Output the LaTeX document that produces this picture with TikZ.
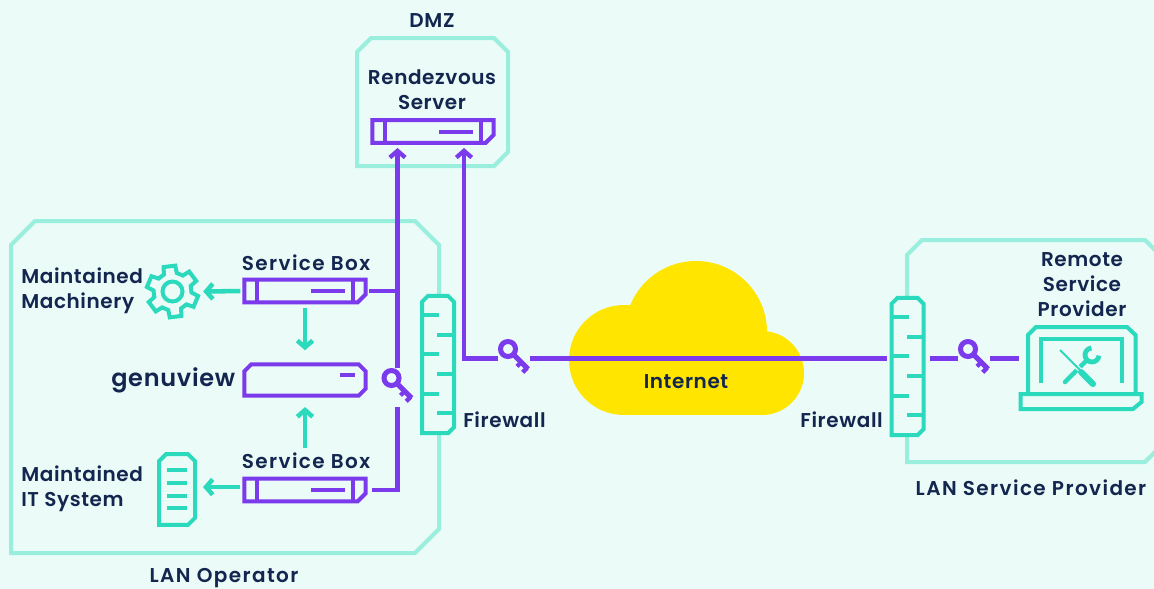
\documentclass[tikz,border=0pt]{standalone}
\usepackage{fontspec}
\setmainfont{Poppins}[UprightFont=* SemiBold,BoldFont=* SemiBold,LetterSpace=3]
\usetikzlibrary{arrows.meta,calc}
\definecolor{pagebg}{HTML}{EBFBF8}
\definecolor{framecol}{HTML}{9AEEDD}
\definecolor{iconcol}{HTML}{2BD9BC}
\definecolor{linkcol}{HTML}{7C3AED}
\definecolor{textcol}{HTML}{13264F}
\definecolor{cloudcol}{HTML}{FFE500}
% outline with three cut corners, round a node
\newcommand{\cutbox}[3]{
  \draw[#1] (#2.south west) -- ($(#2.north west)+(0,#3)$) -- ($(#2.north west)+(#3,0)$)
    -- ($(#2.north east)+(-#3,0)$) -- ($(#2.north east)+(0,#3)$)
    -- ($(#2.south east)+(0,-#3)$) -- ($(#2.south east)+(-#3,0)$) -- cycle;
}
\tikzset{
  barb/.tip={Straight Barb[length=5pt,width=11.5pt]},
  lbl/.style={inner sep=0pt,text=textcol,font=\fontsize{15}{19}\selectfont},
  widelbl/.style={lbl,font=\fontsize{15}{19}\selectfont\addfontfeature{LetterSpace=7}},
  plain/.style={inner sep=0pt,outer sep=0pt},
  frameline/.style={draw=framecol,line width=3pt},
  servbox/.style={plain,minimum width=91pt,minimum height=17pt},
  wallbox/.style={plain,minimum width=24pt,minimum height=103pt},
  keynode/.style={plain,minimum width=24pt,minimum height=29.25pt},
  link/.style={draw=linkcol,line width=3.2pt},
  thin1/.style={draw=linkcol,line width=3pt},
  flow/.style={draw=iconcol,line width=3.4pt},
  icon/.style={draw=iconcol,line width=3pt},
  keyicon/.pic={
    \draw[link,line width=3.75pt] (-6,-9.5) circle[radius=7.5];
    \draw[link,line width=3.75pt] (-1,-4.5) -- (14,10.5);
    \draw[link,line width=3.2pt] (13,9.5) -- (8.7,13.8);
    \draw[link,line width=3.2pt] (7.15,3.65) -- (3,7.8);
  }
}
\begin{document}
\begin{tikzpicture}[x=0.75pt,y=-0.75pt]
\useasboundingbox (0,0) rectangle (1154,589);
\fill[pagebg] (0,0) rectangle (1154,589);
\clip (0,0) rectangle (1154,589);

% frames
\node[plain,minimum width=113.25pt,minimum height=96pt] (dmz) at (432.5,102) {};
\node[plain,minimum width=321pt,minimum height=249pt] (lanop) at (225,387) {};
\node[plain,minimum width=189.75pt,minimum height=166.5pt] (lansp) at (1033.5,351) {};
\cutbox{frameline}{dmz}{14}
\cutbox{frameline}{lanop}{24}
\cutbox{frameline}{lansp}{15}

% cloud
\fill[cloudcol] (624,360) circle[radius=55];
\fill[cloudcol] (696,332) circle[radius=71];
\fill[cloudcol] (762,373) circle[radius=42];
\fill[cloudcol] (624,360) rectangle (762,415);

% labels
\node[lbl] (dmzlbl) at (432,21) {DMZ};
\node[lbl,align=center] (rvlbl) at (432,90) {Rendezvous\\Server};
\node[widelbl] (sb1lbl) at (306,263) {Service Box};
\node[widelbl] (sb2lbl) at (306,461) {Service Box};
\node[lbl,align=left,anchor=west] (machlbl) at (21,291) {Maintained\\Machinery};
\node[lbl,align=left,anchor=west] (itlbl) at (21,489) {Maintained\\IT System};
\node[lbl,anchor=west,font=\fontsize{18}{22}\selectfont\bfseries] (genulbl) at (111,380) {genuview};
\node[lbl,anchor=west] (fw1lbl) at (463,420) {Firewall};
\node[lbl,anchor=east] (fw2lbl) at (883,420) {Firewall};
\node[lbl] (netlbl) at (686,382) {Internet};
\node[lbl,align=center] (rsplbl) at (1082,284.5) {Remote\\Service\\Provider};
\node[widelbl] (lansplbl) at (1031,488) {LAN Service Provider};
\node[widelbl] (lanoplbl) at (224,578) {LAN Operator};

% boxes
\node[servbox] (rv) at (433,131.5) {};
\node[servbox] (sb1) at (305,291) {};
\node[servbox] (sb2) at (305,490) {};
\node[plain,minimum width=91pt,minimum height=23.6pt] (genu) at (305,380) {};
\cutbox{thin1}{genu}{7}
\foreach \b in {rv,sb1,sb2} {
  \draw[thin1] (\b.south west) -- (\b.north west) -- (\b.north east)
    -- ($(\b.south east)+(0,-8)$) -- ($(\b.south east)+(-8,0)$) -- cycle;
  \draw[thin1] ($(\b.north west)+(12.5,0)$) -- ($(\b.south west)+(12.5,0)$);
  \draw[thin1] ($(\b.north east)+(-12.5,0)$) -- ($(\b.south east)+(-12.5,0)$);
  \draw[thin1] ($(\b.east)+(-21,0)$) -- ($(\b.east)+(-55,0)$);
}
\draw[thin1] ($(genu.east)+(-11,-5)$) -- ($(genu.east)+(-26,-5)$);

% firewalls
\node[wallbox] (fw1) at (438,364.5) {};
\node[wallbox] (fw2) at (907.5,366.5) {};
\foreach \w in {fw1,fw2} {
  \cutbox{icon,fill=pagebg}{\w}{6}
  \foreach \dy in {-49.5,-10.5,29.5}
    \draw[icon] ($(\w.west)+(0,\dy)$) -- ++(17,0);
  \foreach \dy in {-29.5,9.5,48.5}
    \draw[icon] ($(\w.east)+(0,\dy)$) -- ++(-17,0);
}

% keys
\node[keynode] (key1) at (397.5,387.5) {};
\node[keynode] (key2) at (514,358.5) {};
\node[keynode] (key3) at (974,358.5) {};
\pic at (key1) {keyicon};
\pic at (key2) {keyicon};
\pic at (key3) {keyicon};

% gear
\node[circle,plain,minimum size=45pt] (gear) at (172.5,291.5) {};
\begin{scope}[shift={(gear.center)}]
\draw[icon,line join=miter] (-117:19) \foreach \a in {-97,-37,23,83,143,203} {
  -- (\a-20:19) -- (\a-13:26) -- (\a+13:26) -- (\a+20:19) } -- cycle;
\draw[icon] (0,0) circle[radius=10];
\end{scope}

% it system
\node[plain,minimum width=27pt,minimum height=53pt] (itsys) at (177,489.5) {};
\cutbox{icon}{itsys}{7}
\foreach \y in {-19.5,-6.5,6.5,18.5}
  \draw[icon] ($(itsys.center)+(-10,\y)$) -- ++(20,0);

% laptop
\node[plain,minimum width=93pt,minimum height=64pt] (laptop) at (1081,367) {};
\draw[icon] (1028,393) -- (1028,335) -- (1036,327) -- (1127,327) -- (1135.5,335) -- (1135.5,393);
\draw[icon] (1041,383) -- (1041,339) -- (1122,339) -- (1122,383);
\draw[icon] (1020.5,394) -- (1141.5,394) -- (1141.5,402) -- (1133,409) -- (1020.5,409) -- cycle;
% wrench and screwdriver
\draw[icon,line width=3.4pt,line cap=round] (1065,382) -- (1087,360);
\draw[icon,line width=3.6pt] (1092,355) ++(5:7) arc[start angle=5,end angle=265,radius=7];
\draw[draw=pagebg,line width=3.2pt] (1066,356) -- (1086,376);
\draw[icon,line width=1.5pt] (1060,350) -- (1082,372);
\draw[icon,line width=4.6pt,line cap=round] (1081,372) -- (1093,384);

% connectors
\coordinate (rvinA) at (397.5,148);
\coordinate (rvinB) at (464,148);
\draw[link,-barb] (key1.north) -- (rvinA);
\draw[link,-barb] (key2.west) -| (rvinB);
\draw[link,shorten <=2.5pt] (sb1.east) -- (sb1.east -| key1);
\draw[link,shorten <=4.5pt] (sb2.east) -| (key1.south);
\draw[link,shorten >=3.7pt] (key2.east) -- (key2.east -| fw2.west);
\draw[link,shorten <=4.5pt] (key3.west -| fw2.east) -- (key3.west);
\draw[link] (key3.east) -- (key3.east -| laptop.west);

\draw[flow,-barb,shorten <=3pt,shorten >=0.5pt] (sb1.west) -- (gear.east);
\draw[flow,-barb,shorten <=3pt,shorten >=6pt] ([yshift=2.2pt]sb2.west) -- ([yshift=2.2pt]sb2.west -| itsys.east);
\draw[flow,-barb,shorten <=4pt,shorten >=10.5pt] (sb1.south) -- (genu.north);
\draw[flow,-barb,shorten <=23pt,shorten >=8.5pt] (sb2.north) -- (genu.south);
\end{tikzpicture}
\end{document}
